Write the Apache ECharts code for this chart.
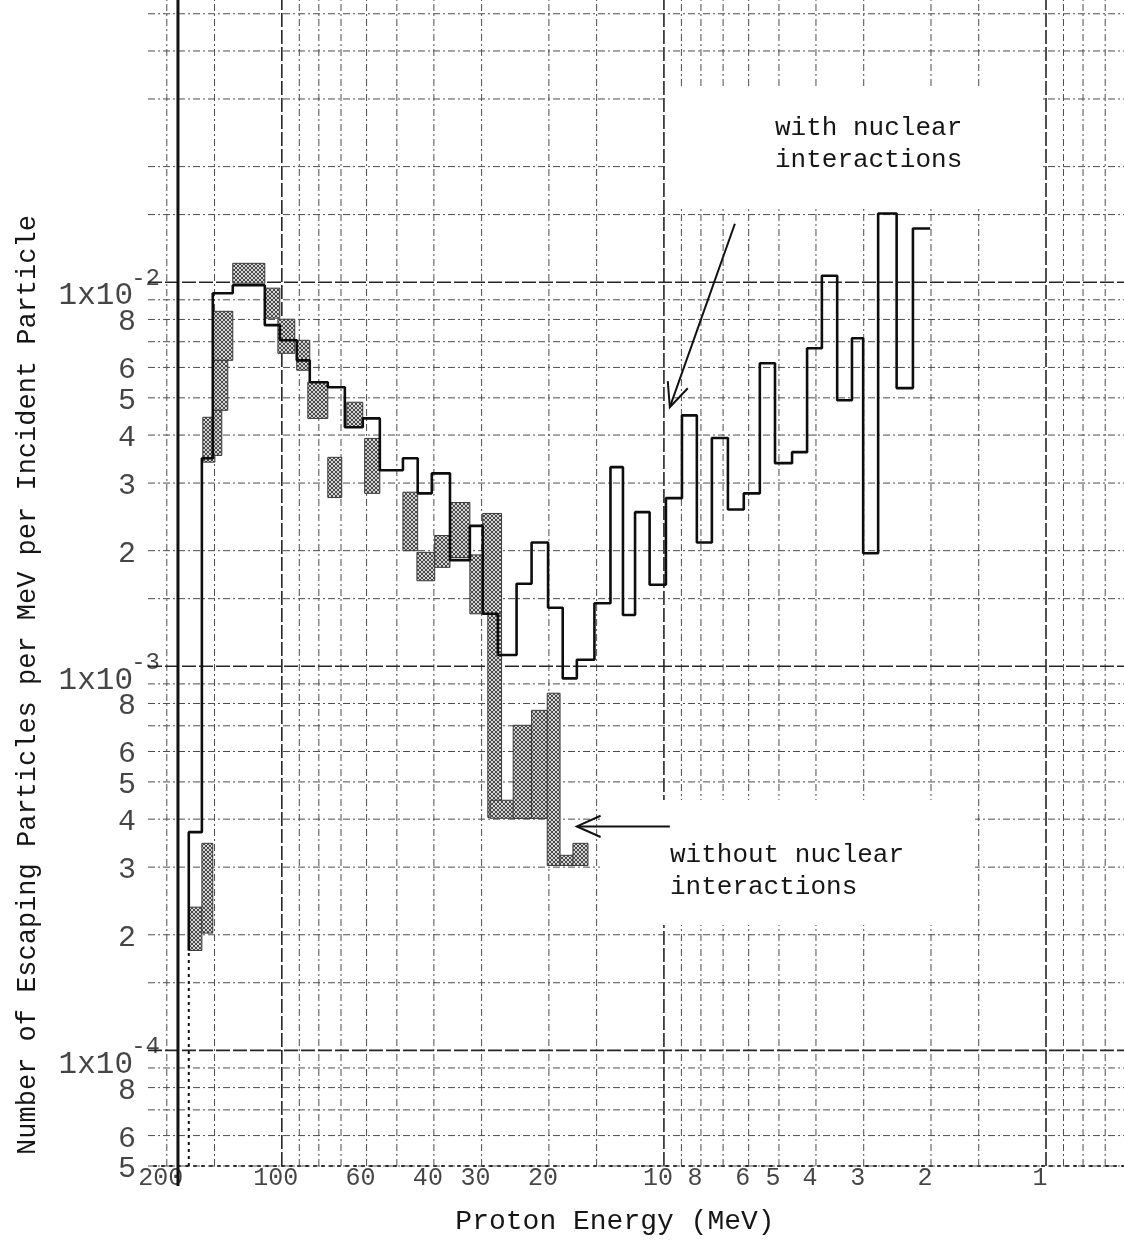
<!DOCTYPE html>
<html>
<head>
<meta charset="utf-8">
<script src="https://cdn.jsdelivr.net/npm/echarts@6/dist/echarts.min.js"></script>
<style>
  html, body { margin: 0; padding: 0; background: #ffffff; }
  #chart { width: 1124px; height: 1241px; }
</style>
</head>
<body>
<div id="chart"></div>
<script>
// Axis extents: proton energy in MeV (log, high energies on the left), particles per MeV (log)
const xRange = [0.625, 224];
const yRange = [5e-5, 0.0543];

// Tick labels along the energy axis
const xTickLabels = [200, 100, 60, 40, 30, 20, 10, 8, 6, 5, 4, 3, 2, 1];
// Graph-paper rulings
const xGridHeavy = [100, 10, 1];
const xGridLight = [200, 150, 90, 80, 70, 60, 50, 40, 30, 20, 15, 9, 8, 7, 6, 5, 4, 3, 2, 1.5, 0.9, 0.8, 0.7];
const yGridHeavy = [1e-4, 1e-3, 1e-2];
const yGridLight = [5e-5, 6e-5, 7e-5, 8e-5, 9e-5,
  1.5e-4, 2e-4, 3e-4, 4e-4, 5e-4, 6e-4, 7e-4, 8e-4, 9e-4,
  1.5e-3, 2e-3, 3e-3, 4e-3, 5e-3, 6e-3, 7e-3, 8e-3, 9e-3,
  1.5e-2, 2e-2, 3e-2, 4e-2, 5e-2];
// Labels on the flux axis
const yDecadeTicks = [1e-2, 1e-3, 1e-4];
const yDecadeExponents = ['-2', '-3', '-4'];
const yMantissaTicks = [8e-3, 6e-3, 5e-3, 4e-3, 3e-3, 2e-3, 8e-4, 6e-4, 5e-4, 4e-4, 3e-4, 2e-4, 8e-5, 6e-5, 5e-5];

// Heavy ruled edge line (MeV)
const frameEnergy = 187;

// With nuclear interactions: histogram bin edges (MeV) and contents per bin
const withEdges = [175.2, 161.9, 151.6, 134.4, 110.8, 101.2, 91.4, 84.5, 75.8, 68.4, 61.4, 55.4, 48.2, 44.1,
  40.5, 36.3, 32.2, 29.8, 27.2, 24.3, 22.2, 20.1, 18.4, 16.9, 15.2, 13.8, 12.8, 11.9, 10.9, 9.88, 8.97,
  8.20, 7.49, 6.80, 6.18, 5.61, 5.12, 4.62, 4.22, 3.86, 3.52, 3.22, 3.01, 2.75, 2.46, 2.23, 2.01];
const withValues = [3.7e-4, 3.48e-3, 9.36e-3, 9.82e-3, 7.73e-3, 7.06e-3, 6.26e-3, 5.49e-3, 5.33e-3, 4.19e-3,
  4.42e-3, 3.24e-3, 3.48e-3, 2.82e-3, 3.18e-3, 1.89e-3, 2.32e-3, 1.37e-3, 1.07e-3, 1.64e-3, 2.10e-3,
  1.42e-3, 9.3e-4, 1.04e-3, 1.46e-3, 3.30e-3, 1.36e-3, 2.52e-3, 1.63e-3, 2.74e-3, 4.50e-3, 2.10e-3,
  3.93e-3, 2.56e-3, 2.82e-3, 6.15e-3, 3.38e-3, 3.61e-3, 6.73e-3, 1.04e-2, 4.93e-3, 7.15e-3, 1.97e-3,
  1.51e-2, 5.30e-3, 1.38e-2];
// The first edge rises from this level (solid), dotted below it down to the axis
const withRiseFrom = 1.82e-4;

// Without nuclear interactions: shaded bands, one per row
const shadeFrom   = [175.2, 161.9, 161.0, 151.6, 151.6, 151.6, 134.4, 110.8, 102.4, 91.4, 85.5, 75.8, 67.6, 60.7,
  48.2, 44.3, 39.8, 36.3, 32.2, 29.8, 28.9, 28.5, 24.8, 22.2, 20.2, 18.7, 17.3];
const shadeTo     = [161.9, 151.6, 149.7, 134.4, 138.5, 143.6, 110.8, 101.2, 92.5, 84.5, 75.8, 69.7, 61.4, 55.4,
  44.1, 39.8, 36.3, 32.2, 28.9, 26.6, 26.6, 20.1, 22.2, 20.1, 18.7, 17.1, 15.8];
const shadeTop    = [2.36e-4, 3.46e-4, 4.45e-3, 8.40e-3, 6.26e-3, 4.64e-3, 1.12e-2, 9.65e-3, 8.01e-3, 7.06e-3,
  5.49e-3, 3.50e-3, 4.87e-3, 3.92e-3, 2.84e-3, 1.98e-3, 2.19e-3, 2.67e-3, 1.95e-3, 2.50e-3, 1.37e-3,
  4.48e-4, 7.02e-4, 7.68e-4, 8.51e-4, 3.22e-4, 3.46e-4];
const shadeBottom = [1.82e-4, 2.02e-4, 3.40e-3, 6.26e-3, 4.64e-3, 3.54e-3, 9.94e-3, 8.06e-3, 6.53e-3, 5.90e-3,
  4.42e-3, 2.75e-3, 4.19e-3, 2.82e-3, 2.00e-3, 1.67e-3, 1.81e-3, 1.92e-3, 1.37e-3, 1.37e-3, 4.04e-4,
  4.02e-4, 4.02e-4, 4.02e-4, 3.03e-4, 3.03e-4, 3.03e-4];

// Pointer arrows for the two curves (tail -> head, in MeV / flux)
const arrowTailE = [6.52, 9.65];
const arrowTailV = [1.42e-2, 3.83e-4];
const arrowHeadE = [9.65, 16.9];
const arrowHeadV = [4.73e-3, 3.83e-4];

const TYPE_FONT = "'Liberation Mono', 'DejaVu Sans Mono', monospace";
const INK = '#161616';

// Cross-hatch fill used for the shaded bands
function hatchCanvas() {
  const c = document.createElement('canvas');
  c.width = 4; c.height = 4;
  const g = c.getContext('2d');
  g.fillStyle = '#d4d4d4';
  g.fillRect(0, 0, 4, 4);
  g.fillStyle = '#4a4a4a';
  [[0,0],[1,1],[2,2],[3,3],[3,0],[2,1],[1,2],[0,3]].forEach(function (p) { g.fillRect(p[0], p[1], 1, 1); });
  return c;
}
const hatch = { image: hatchCanvas(), repeat: 'repeat' };

function verticalRules(values, style) {
  return {
    type: 'custom', coordinateSystem: 'cartesian2d', silent: true, z: 1,
    data: values.map(function (v) { return [v, yRange[0]]; }),
    encode: { x: 0, y: 1 },
    renderItem: function (params, api) {
      const a = api.coord([api.value(0), yRange[0]]);
      const b = api.coord([api.value(0), yRange[1]]);
      return { type: 'line', shape: { x1: a[0], y1: a[1], x2: b[0], y2: b[1] }, style: style };
    }
  };
}
function horizontalRules(values, style) {
  return {
    type: 'custom', coordinateSystem: 'cartesian2d', silent: true, z: 1,
    data: values.map(function (v) { return [xRange[0], v]; }),
    encode: { x: 0, y: 1 },
    renderItem: function (params, api) {
      const a = api.coord([xRange[1], api.value(1)]);
      const b = api.coord([xRange[0], api.value(1)]);
      return { type: 'line', shape: { x1: a[0], y1: a[1], x2: b[0], y2: b[1] }, style: style };
    }
  };
}

const lightRule = { stroke: '#4d4d4d', lineWidth: 1, lineDash: [7, 3, 2, 3] };
const heavyRule = { stroke: '#262626', lineWidth: 1.6, lineDash: [14, 3] };

// Step outline of the histogram
const stepPoints = [[withEdges[0], withRiseFrom]];
withValues.forEach(function (v, i) {
  stepPoints.push([withEdges[i], v]);
  stepPoints.push([withEdges[i + 1], v]);
});

const bandData = shadeFrom.map(function (e, i) { return [e, shadeTo[i], shadeTop[i], shadeBottom[i]]; });
const arrowData = arrowTailE.map(function (e, i) { return [e, arrowTailV[i], arrowHeadE[i], arrowHeadV[i]]; });

const chart = echarts.init(document.getElementById('chart'), null, { renderer: 'canvas' });

chart.setOption({
  animation: false,
  backgroundColor: '#ffffff',
  grid: { left: 148, right: 0, top: 0, bottom: 75, containLabel: false },
  xAxis: {
    type: 'log', logBase: 10, inverse: true, min: xRange[0], max: xRange[1],
    axisLine: { show: true, onZero: false, lineStyle: { color: '#222', width: 2, type: [2, 6] } },
    axisTick: { show: false }, axisLabel: { show: false }, splitLine: { show: false }, minorSplitLine: { show: false }
  },
  yAxis: {
    type: 'log', logBase: 10, min: yRange[0], max: yRange[1],
    axisLine: { show: false }, axisTick: { show: false }, axisLabel: { show: false },
    splitLine: { show: false }
  },
  graphic: [
    { type: 'rect', z: 2, shape: { x: 668, y: 88, width: 372, height: 118 }, style: { fill: '#ffffff' } },
    { type: 'rect', z: 2, shape: { x: 600, y: 800, width: 375, height: 125 }, style: { fill: '#ffffff' } },
    { type: 'text', z: 20, x: 775, y: 128, style: { text: 'with nuclear', font: '26px ' + TYPE_FONT, fill: INK, verticalAlign: 'middle' } },
    { type: 'text', z: 20, x: 775, y: 160, style: { text: 'interactions', font: '26px ' + TYPE_FONT, fill: INK, verticalAlign: 'middle' } },
    { type: 'text', z: 20, x: 670, y: 855, style: { text: 'without nuclear', font: '26px ' + TYPE_FONT, fill: INK, verticalAlign: 'middle' } },
    { type: 'text', z: 20, x: 670, y: 887, style: { text: 'interactions', font: '26px ' + TYPE_FONT, fill: INK, verticalAlign: 'middle' } },
    { type: 'text', z: 20, x: 615, y: 1222, style: { text: 'Proton Energy (MeV)', font: '28px ' + TYPE_FONT, fill: INK, align: 'center', verticalAlign: 'middle' } },
    { type: 'text', z: 20, x: 28, y: 685, rotation: Math.PI / 2,
      style: { text: 'Number of Escaping Particles per MeV per Incident Particle', font: '27px ' + TYPE_FONT, fill: INK, align: 'center', verticalAlign: 'middle' } }
  ],
  series: [
    verticalRules(xGridLight, lightRule),
    verticalRules(xGridHeavy, heavyRule),
    horizontalRules(yGridLight, lightRule),
    horizontalRules(yGridHeavy, heavyRule),
    // heavy ruled edge
    {
      type: 'custom', coordinateSystem: 'cartesian2d', silent: true, z: 3,
      data: [[frameEnergy, yRange[0]]], encode: { x: 0, y: 1 },
      renderItem: function (params, api) {
        const a = api.coord([api.value(0), yRange[0]]);
        const b = api.coord([api.value(0), yRange[1]]);
        return { type: 'line', shape: { x1: a[0], y1: a[1] + 20, x2: b[0], y2: b[1] }, style: { stroke: '#111', lineWidth: 3 } };
      }
    },
    // shaded bands
    {
      type: 'custom', coordinateSystem: 'cartesian2d', silent: true, z: 4,
      data: bandData, encode: { x: [0, 1], y: [2, 3] },
      renderItem: function (params, api) {
        const p1 = api.coord([api.value(0), api.value(2)]);
        const p2 = api.coord([api.value(1), api.value(3)]);
        return {
          type: 'rect',
          shape: { x: Math.min(p1[0], p2[0]), y: Math.min(p1[1], p2[1]), width: Math.abs(p2[0] - p1[0]), height: Math.abs(p2[1] - p1[1]) },
          style: { fill: hatch, stroke: '#3a3a3a', lineWidth: 1 }
        };
      }
    },
    // dotted lead-in of the first bin edge
    {
      type: 'line', z: 5, silent: true, showSymbol: false,
      data: [[withEdges[0], yRange[0]], [withEdges[0], withRiseFrom]],
      lineStyle: { color: '#111', width: 2, type: [3, 4] }
    },
    // histogram outline
    {
      type: 'line', z: 6, silent: true, showSymbol: false,
      data: stepPoints,
      lineStyle: { color: '#0d0d0d', width: 2.6 }
    },
    // pointer arrows
    {
      type: 'custom', coordinateSystem: 'cartesian2d', silent: true, z: 7,
      data: arrowData, encode: { x: [0, 2], y: [1, 3] },
      renderItem: function (params, api) {
        const s = api.coord([api.value(0), api.value(1)]);
        const t = api.coord([api.value(2), api.value(3)]);
        const ang = Math.atan2(t[1] - s[1], t[0] - s[0]);
        const len = 26, spread = 0.42;
        const a1 = [t[0] - len * Math.cos(ang - spread), t[1] - len * Math.sin(ang - spread)];
        const a2 = [t[0] - len * Math.cos(ang + spread), t[1] - len * Math.sin(ang + spread)];
        return {
          type: 'group',
          children: [
            { type: 'line', shape: { x1: s[0], y1: s[1], x2: t[0], y2: t[1] }, style: { stroke: '#111', lineWidth: 2 } },
            { type: 'polyline', shape: { points: [a1, t, a2] }, style: { stroke: '#111', lineWidth: 2, fill: null } }
          ]
        };
      }
    },
    // energy tick labels
    {
      type: 'scatter', z: 8, silent: true, symbolSize: 0,
      data: xTickLabels.map(function (v) { return [v, yRange[0]]; }),
      label: {
        show: true, position: 'bottom', distance: 0, offset: [-6, 0],
        formatter: function (p) { return String(p.value[0]); },
        fontFamily: TYPE_FONT, fontSize: 25, color: INK
      }
    },
    // flux mantissa labels
    {
      type: 'scatter', z: 8, silent: true, symbolSize: 0,
      data: yMantissaTicks.map(function (v) { return [xRange[1], v]; }),
      label: {
        show: true, position: 'left', distance: 12, offset: [0, 3],
        formatter: function (p) { return String(Math.round(p.value[1] / Math.pow(10, Math.floor(Math.log10(p.value[1]) + 1e-9)))); },
        fontFamily: TYPE_FONT, fontSize: 30, color: INK
      }
    },
    // decade labels "1x10" with superscript exponent
    {
      type: 'scatter', z: 8, silent: true, symbolSize: 0,
      data: yDecadeTicks.map(function (v) { return [xRange[1], v]; }),
      label: {
        show: true, position: 'left', distance: 15, offset: [0, 14],
        formatter: '1x10', fontFamily: TYPE_FONT, fontSize: 31, color: INK
      }
    },
    {
      type: 'scatter', z: 8, silent: true, symbolSize: 0,
      data: yDecadeTicks.map(function (v) { return [xRange[1], v]; }),
      label: {
        show: true, position: 'left', distance: -12, offset: [0, -4],
        formatter: function (p) { return yDecadeExponents[p.dataIndex]; },
        fontFamily: TYPE_FONT, fontSize: 24, color: INK
      }
    }
  ]
});
</script>
</body>
</html>
